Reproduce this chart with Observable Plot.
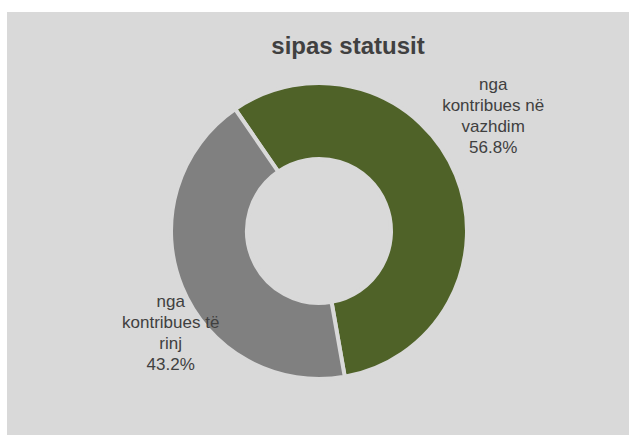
<!DOCTYPE html>
<html>
<head>
<meta charset="utf-8">
<script src="https://cdn.jsdelivr.net/npm/d3@7"></script>
<script src="https://cdn.jsdelivr.net/npm/@observablehq/plot@0.6"></script>
<style>
  html, body { margin: 0; padding: 0; background: #ffffff; }
  #chart {
    position: absolute; left: 7px; top: 12px; width: 622px; height: 423px;
    background: #d9d9d9; overflow: hidden;
    font-family: "Liberation Sans", Arial, Helvetica, sans-serif;
  }
  #title {
    position: absolute; left: 341px; top: 20px; transform: translateX(-50%);
    font-size: 24px; line-height: 28px; font-weight: bold; color: #404040;
    white-space: nowrap; z-index: 2;
  }
  #chart svg { position: absolute; left: 0; top: 0; background: #d9d9d9; }
</style>
</head>
<body>
<div id="chart"><div id="title"></div></div>
<script>
// ---- data ----
const title = "sipas statusit";
const categories = ["nga\nkontribues në\nvazhdim", "nga\nkontribues të\nrinj"];
const values = [56.8, 43.2];
const colors = ["#4f6228", "#808080"];

// ---- layout ----
const W = 622, H = 423;
const cx = 312, cy = 219, R = 148;      // donut centre and outer radius (px)
const innerRatio = 0.4865;
const startDeg = -34.5;
const labelShiftDeg = -11.6;
const labelRadius = [1.413, 1.211];
const bg = "#d9d9d9";

document.getElementById("title").textContent = title;

const rows = categories.map((c, i) => ({category: c, value: values[i], color: colors[i]}));
const start = startDeg * Math.PI / 180;
const arcs = d3.pie().sort(null).value(d => d.value).startAngle(start).endAngle(start + 2 * Math.PI)(rows);

const labels = arcs.map((a, i) => {
  const mid = (a.startAngle + a.endAngle) / 2 + labelShiftDeg * Math.PI / 180;
  return {
    x: labelRadius[i] * Math.sin(mid),
    y: labelRadius[i] * Math.cos(mid),
    text: a.data.category + "\n" + a.data.value.toFixed(1) + "%"
  };
});

function donut(index, scales) {
  const x = scales.x, y = scales.y;
  const outer = x(1) - x(0);
  const inner = x(innerRatio) - x(0);
  const arc = d3.arc().innerRadius(inner).outerRadius(outer);
  const g = d3.create("svg:g").attr("transform", `translate(${x(0)},${y(0)})`);
  g.append("circle").attr("r", inner + 1).attr("fill", bg);
  g.selectAll("path.slice").data(arcs).join("path")
    .attr("class", "slice")
    .attr("d", arc)
    .attr("fill", d => d.data.color)
    .attr("stroke", bg)
    .attr("stroke-width", 4)
    .attr("stroke-linejoin", "miter");
  return g.node();
}

const plot = Plot.plot({
  width: W, height: H, margin: 0,
  x: {domain: [-1, 1], range: [cx - R, cx + R], axis: null},
  y: {domain: [-1, 1], range: [cy + R, cy - R], axis: null},
  style: {background: bg, fontFamily: "'Liberation Sans', Arial, Helvetica, sans-serif"},
  marks: [
    donut,
    Plot.text(labels, {
      x: "x", y: "y", text: "text",
      fontSize: 17, lineHeight: 1.24, fill: "#404040",
      textAnchor: "middle", lineAnchor: "middle"
    })
  ]
});
document.getElementById("chart").appendChild(plot);
</script>
</body>
</html>
